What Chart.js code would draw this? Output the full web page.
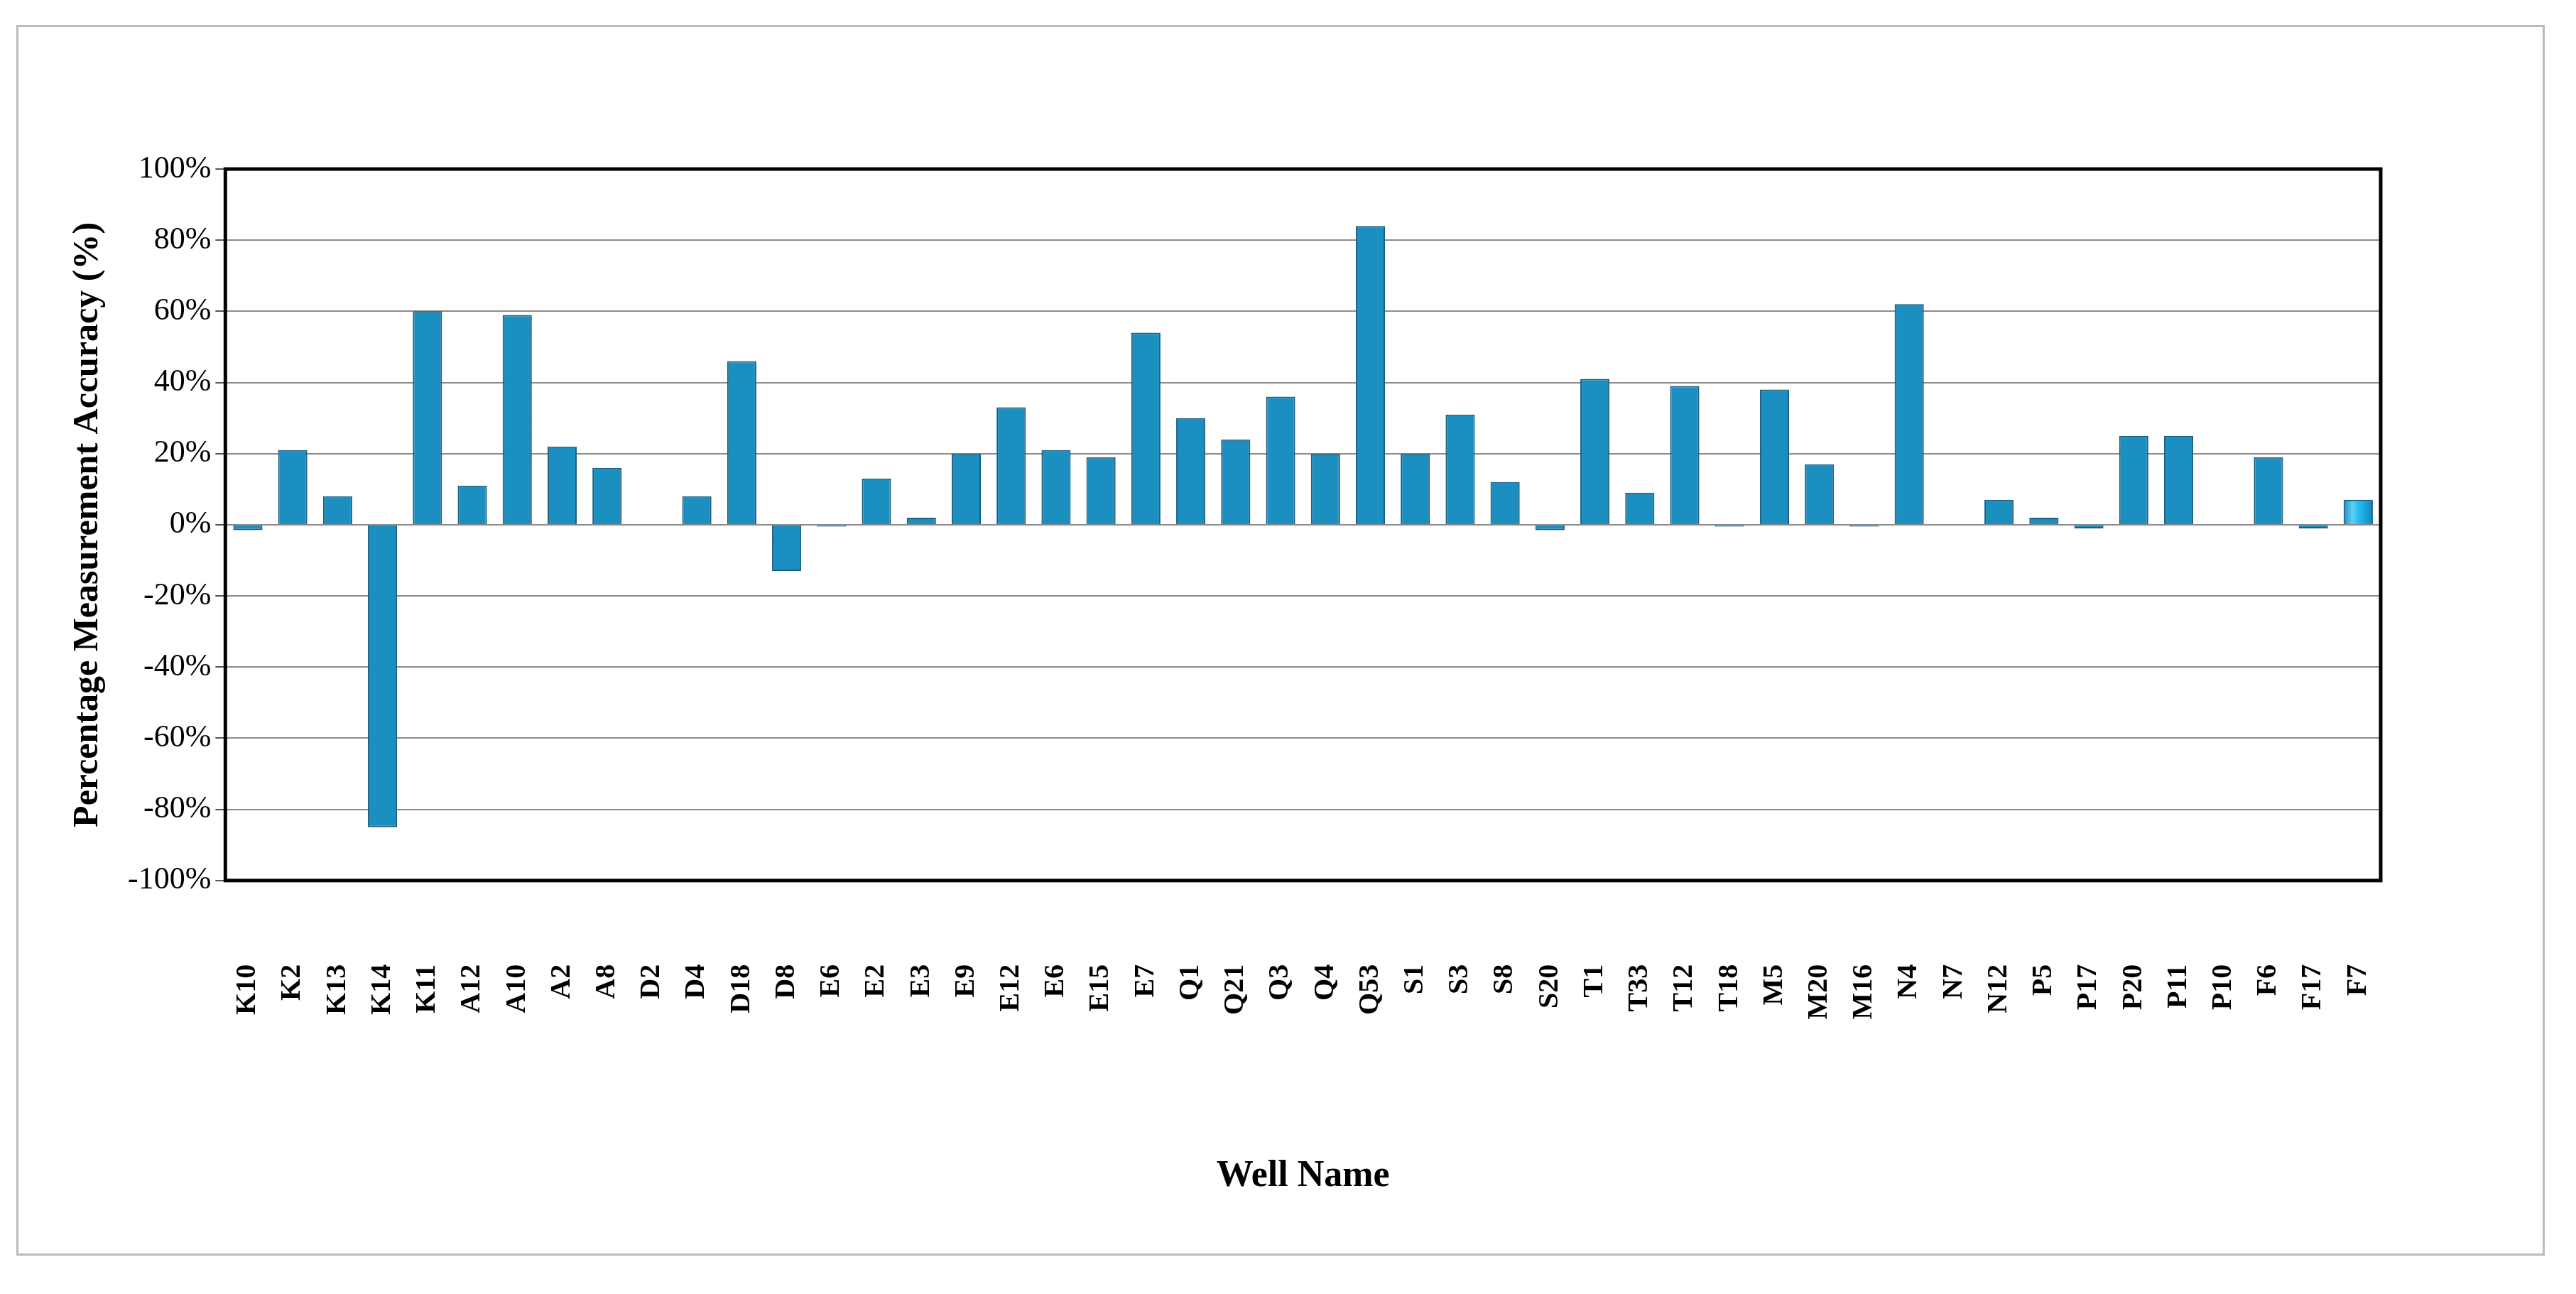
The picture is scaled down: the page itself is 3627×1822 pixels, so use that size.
<!DOCTYPE html>
<html>
<head>
<meta charset="utf-8">
<script src="https://cdn.jsdelivr.net/npm/chart.js@4.4.1/dist/chart.umd.min.js"></script>
<style>
  html, body { margin: 0; padding: 0; background: #fff; overflow: hidden; }
  #frame { position: absolute; left: 23px; top: 35px; width: 3560px; height: 1733px; border: 3px solid #bbb; box-sizing: border-box; }
  #chart { position: absolute; left: 0; top: 0; }
</style>
</head>
<body>
<div id="frame"></div>
<canvas id="chart" width="3627" height="1822"></canvas>
<script>
const wells = ['K10','K2','K13','K14','K11','A12','A10','A2','A8','D2','D4','D18','D8','E6','E2','E3','E9','E12','E6','E15','E7','Q1','Q21','Q3','Q4','Q53','S1','S3','S8','S20','T1','T33','T12','T18','M5','M20','M16','N4','N7','N12','P5','P17','P20','P11','P10','F6','F17','F7'];
const accuracy = [-1.5,21,8,-85,60,11,59,22,16,0,8,46,-13,-0.5,13,2,20,33,21,19,54,30,24,36,20,84,20,31,12,-1.5,41,9,39,-0.5,38,17,-0.5,62,0,7,2,-1,25,25,0,19,-1,7];
const yTicks = [-100,-80,-60,-40,-20,0,20,40,60,80,100];

// horizontal cylinder-like gradient per bar
const barGradient = {
  id: 'barGradient',
  beforeDatasetsDraw(chart) {
    const ctx = chart.ctx;
    chart.getDatasetMeta(0).data.forEach(bar => {
      const l = bar.x - bar.width / 2, r = bar.x + bar.width / 2;
      const g = ctx.createLinearGradient(l, 0, r, 0);
      g.addColorStop(0, '#1a8fc0');
      g.addColorStop(0.3, '#5fd0f5');
      g.addColorStop(0.55, '#22b8ee');
      g.addColorStop(1, '#0f86b8');
      bar.options.backgroundColor = g;
    });
  }
};

const plotBox = {
  id: 'plotBox',
  afterDraw(chart) {
    const a = chart.chartArea, ctx = chart.ctx;
    ctx.save();
    ctx.strokeStyle = '#000';
    ctx.lineWidth = 5;
    ctx.strokeRect(a.left, a.top, a.right - a.left, a.bottom - a.top);
    ctx.restore();
  }
};

new Chart(document.getElementById('chart'), {
  type: 'bar',
  data: {
    labels: wells,
    datasets: [{
      data: accuracy,
      backgroundColor: '#22b8ee',
      borderColor: '#1d5f80',
      borderWidth: 2,
      categoryPercentage: 1,
      barPercentage: 0.65
    }]
  },
  options: {
    responsive: false,
    animation: false,
    devicePixelRatio: 1,
    layout: { padding: { left: 90, right: 275, top: 238, bottom: 130 } },
    plugins: { legend: { display: false }, tooltip: { enabled: false } },
    scales: {
      x: {
        grid: { display: false },
        border: { display: false },
        ticks: {
          autoSkip: false, maxRotation: 90, minRotation: 90, padding: 110,
          color: '#000', font: { family: 'Liberation Serif', size: 40, weight: 'bold' }
        },
        title: {
          display: true, text: 'Well Name', color: '#000', padding: { top: 80 },
          font: { family: 'Liberation Serif', size: 52, weight: 'bold' }
        }
      },
      y: {
        min: -100, max: 100,
        afterBuildTicks(axis) { axis.ticks = yTicks.map(v => ({ value: v })); },
        grid: { color: '#8c8c8c', lineWidth: 2, drawTicks: true, tickLength: 14, tickColor: '#555' },
        border: { display: false },
        ticks: {
          color: '#000', padding: 6,
          font: { family: 'Liberation Serif', size: 44 },
          callback: v => v + '%'
        },
        title: {
          display: true, text: 'Percentage Measurement Accuracy (%)', color: '#000', padding: { bottom: 20 },
          font: { family: 'Liberation Serif', size: 50, weight: 'bold' }
        }
      }
    }
  },
  plugins: [barGradient, plotBox]
});
</script>
</body>
</html>
